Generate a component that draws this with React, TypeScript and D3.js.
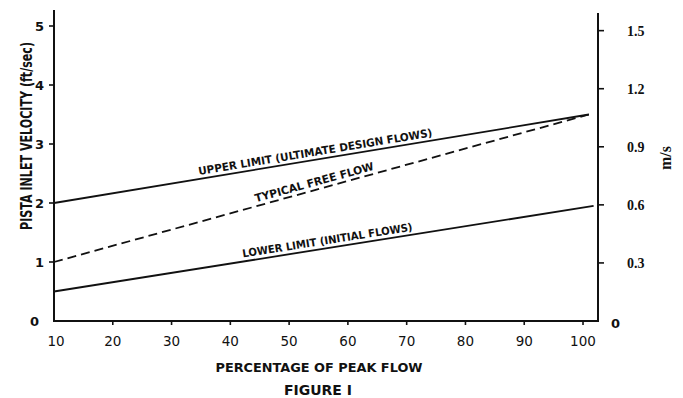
import React from "react";
import * as d3 from "d3";

const xTicks = [10, 20, 30, 40, 50, 60, 70, 80, 90, 100];
const yTicksFt = [0, 1, 2, 3, 4, 5];
const yTicksMs = [0.3, 0.6, 0.9, 1.2, 1.5];

const upperX = [10, 101];
const upperY = [2.0, 3.5];
const typicalX = [10, 101];
const typicalY = [1.0, 3.5];
const lowerX = [10, 101.8];
const lowerY = [0.5, 1.95];

const upperLabel = "UPPER LIMIT (ULTIMATE DESIGN FLOWS)";
const typicalLabel = "TYPICAL FREE FLOW";
const lowerLabel = "LOWER LIMIT (INITIAL FLOWS)";

const W = 683;
const H = 398;

export default function App() {
  const x = d3.scaleLinear().domain([10, 102.55]).range([54, 598]);
  const y = d3.scaleLinear().domain([0, 5]).range([321, 26]);
  const yMs = (v: number) => y(v / 0.3048);

  const line = d3
    .line<[number, number]>()
    .x((d) => x(d[0]))
    .y((d) => y(d[1]));

  const pts = (xs: number[], ys: number[]) =>
    xs.map((v, i) => [v, ys[i]] as [number, number]);

  const labelAt = (
    xs: number[],
    ys: number[],
    px: number,
    off: number,
    text: string,
    len: number
  ) => {
    const x0 = x(xs[0]), y0 = y(ys[0]), x1 = x(xs[1]), y1 = y(ys[1]);
    const slope = (y1 - y0) / (x1 - x0);
    const ang = (Math.atan(slope) * 180) / Math.PI;
    const py = y0 + (px - x0) * slope;
    return (
      <text
        transform={`translate(${px},${py - off}) rotate(${ang})`}
        fontFamily="DejaVu Sans, sans-serif"
        fontWeight="bold"
        fontSize={11}
        textLength={len}
        lengthAdjust="spacingAndGlyphs"
        fill="#111"
      >
        {text}
      </text>
    );
  };

  const sans = "DejaVu Sans, sans-serif";
  const serif = "Liberation Serif, serif";

  return (
    <svg
      width={W}
      height={H}
      style={{ position: "absolute", left: 0, top: 0, background: "#fff" }}
    >
      {/* axes */}
      <line x1={54} y1={10} x2={54} y2={321} stroke="#111" strokeWidth={2} />
      <line x1={53} y1={321} x2={599} y2={321} stroke="#111" strokeWidth={2} />
      <line x1={598} y1={13} x2={598} y2={322} stroke="#111" strokeWidth={2} />

      {/* left ticks */}
      {yTicksFt.map((t) => (
        <g key={"yl" + t}>
          {t > 0 && (
            <line x1={49} x2={54} y1={y(t)} y2={y(t)} stroke="#111" strokeWidth={1.6} />
          )}
          <text
            x={t === 0 ? 39 : 44}
            y={y(t) + 5}
            textAnchor="end"
            fontFamily={sans}
            fontWeight="bold"
            fontSize={13}
            fill="#111"
          >
            {t}
          </text>
        </g>
      ))}

      {/* right ticks */}
      {yTicksMs.map((t) => (
        <g key={"yr" + t}>
          <line x1={598} x2={604} y1={yMs(t)} y2={yMs(t)} stroke="#111" strokeWidth={1.6} />
          <text
            x={627}
            y={yMs(t) + 5}
            fontFamily={serif}
            fontWeight="bold"
            fontSize={14}
            fill="#111"
          >
            {t.toFixed(1)}
          </text>
        </g>
      ))}
      <text x={611} y={y(0) + 7} fontFamily={sans} fontWeight="bold" fontSize={13} fill="#111">
        0
      </text>

      {/* bottom ticks */}
      {xTicks.map((t) => (
        <g key={"x" + t}>
          {t > 10 && (
            <line x1={x(t)} x2={x(t)} y1={321} y2={325} stroke="#111" strokeWidth={1.6} />
          )}
          <text
            x={x(t) + (t === 10 ? 2 : 0)}
            y={346}
            textAnchor="middle"
            fontFamily={sans}
            fontSize={13.5}
            fill="#111"
          >
            {t}
          </text>
        </g>
      ))}

      {/* titles */}
      <text
        x={319}
        y={372}
        textAnchor="middle"
        fontFamily={sans}
        fontWeight="bold"
        fontSize={13}
        textLength={207}
        lengthAdjust="spacingAndGlyphs"
        fill="#111"
      >
        PERCENTAGE OF PEAK FLOW
      </text>
      <text
        x={318}
        y={395}
        textAnchor="middle"
        fontFamily={sans}
        fontWeight="bold"
        fontSize={14}
        textLength={68}
        lengthAdjust="spacingAndGlyphs"
        fill="#111"
      >
        FIGURE I
      </text>
      <text
        transform="translate(32,136) rotate(-90) scale(0.74,1)"
        textAnchor="middle"
        fontFamily={sans}
        fontWeight="bold"
        fontSize={15}
        fill="#111"
      >
        PISTA INLET VELOCITY (ft/sec)
      </text>
      <text
        transform="translate(671,158) rotate(-90)"
        textAnchor="middle"
        fontFamily={serif}
        fontWeight="bold"
        fontSize={16}
        fill="#111"
      >
        m/s
      </text>

      {/* series */}
      <path d={line(pts(upperX, upperY)) || ""} fill="none" stroke="#111" strokeWidth={1.8} />
      <path
        d={line(pts(typicalX, typicalY)) || ""}
        fill="none"
        stroke="#111"
        strokeWidth={1.8}
        strokeDasharray="9,5"
      />
      <path d={line(pts(lowerX, lowerY)) || ""} fill="none" stroke="#111" strokeWidth={1.8} />

      {labelAt(upperX, upperY, 199, 4, upperLabel, 237)}
      {labelAt(typicalX, typicalY, 256, 4, typicalLabel, 123)}
      {labelAt(lowerX, lowerY, 243, 4, lowerLabel, 172)}
    </svg>
  );
}
